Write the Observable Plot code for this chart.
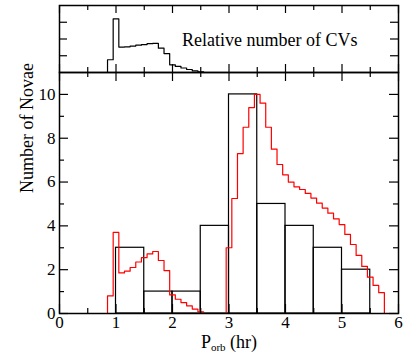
<!DOCTYPE html>
<html><head><meta charset="utf-8">
<script src="https://cdn.jsdelivr.net/npm/d3@7"></script>
<script src="https://cdn.jsdelivr.net/npm/@observablehq/plot@0.6"></script>
<style>
body{margin:0;background:#fff}
#chart{position:relative;width:412px;height:354px;overflow:hidden;background:#fff}
#chart svg{position:absolute;left:0}
</style>
</head><body><div id="chart"></div>
<script>
// ---- data ----
const binStart = 0.85;      // first edge of the 0.1 hr bins
const binWidth = 0.1;
const cvRelative = [0.76,3.2,1.52,1.53,1.58,1.63,1.67,1.72,1.74,1.45,1.13,0.46,0.36,0.27,0.18,0.1,0.04];
const novaModel = [0.8,3.7,1.85,1.93,2.1,2.35,2.55,2.72,2.83,2.42,1.96,0.85,0.65,0.5,0.35,0.2,0.07,
  0,0,0,0,3.0,5.25,7.3,8.5,9.4,10.0,9.6,8.5,7.5,6.8,6.33,6.0,5.78,5.66,5.48,5.27,5.04,4.81,4.58,4.32,4.06,
  3.61,3.15,2.65,2.15,1.66,1.28,0.95];
const novaBinStarts = [1.0,1.5,2.0,2.5,3.0,3.5,4.0,4.5,5.0];
const novaBinWidth = 0.5;
const novaCounts = [3,1,1,4,10,5,4,3,2];
const xMajor = [0,1,2,3,4,5,6];
const xMinor = [0.5,1.5,2.5,3.5,4.5,5.5];
const yMajor = [0,2,4,6,8,10];
const yMinor = [1,3,5,7,9];
const topTicks = [1,2,3];
const topLabel = "Relative number of CVs";
const yLabel = "Number of Novae";

function steps(values){
  const pts = [{x: binStart, y: 0}];
  values.forEach((v,i)=>pts.push({x: binStart + i*binWidth, y: v}));
  pts.push({x: binStart + values.length*binWidth, y: 0});
  return pts;
}
const novaBars = novaBinStarts.map((s,i)=>({x1: s, x2: s + novaBinWidth, y: novaCounts[i]}));

const W = 412, mL = 59, mR = 14;
const font = "Times, 'Times New Roman', 'Liberation Serif', 'DejaVu Serif', serif";
const sw = 1.2;

function xTicks(vals, len, plotH){
  return [
    Plot.tickX(vals, {x: d=>d, stroke: "black", strokeWidth: sw, insetTop: plotH - len}),
    Plot.tickX(vals, {x: d=>d, stroke: "black", strokeWidth: sw, insetBottom: plotH - len})
  ];
}
function yTicks(vals, len, plotW){
  return [
    Plot.tickY(vals, {y: d=>d, stroke: "black", strokeWidth: sw, insetRight: plotW - len}),
    Plot.tickY(vals, {y: d=>d, stroke: "black", strokeWidth: sw, insetLeft: plotW - len})
  ];
}

// ---- top panel ----
const topH = 74, topMT = 5, topMB = 2;
const topPlotH = topH - topMT - topMB, plotW = W - mL - mR;
const topPanel = Plot.plot({
  width: W, height: topH, marginLeft: mL, marginRight: mR, marginTop: topMT, marginBottom: topMB,
  x: {domain: [0,6], axis: null},
  y: {domain: [0,4], axis: null},
  style: {background: "transparent", overflow: "visible"},
  marks: [
    Plot.line(steps(cvRelative), {x: "x", y: "y", curve: "step-after", stroke: "black", strokeWidth: sw}),
    ...xTicks(xMajor, 8, topPlotH),
    ...xTicks(xMinor, 5, topPlotH),
    ...yTicks(topTicks, 8, plotW),
    Plot.text([topLabel], {x: ()=>2.17, y: ()=>1.95, text: d=>d, textAnchor: "start", fontSize: 18, fill: "black"}),
    Plot.frame({stroke: "black", strokeWidth: 1.5})
  ]
});
topPanel.style.top = "0px";

// ---- main panel ----
const mainTop = 70, mainH = 354 - mainTop, mMT = 2, mMB = mainH - (313 - mainTop);
const mainPlotH = mainH - mMT - mMB;
const mainPanel = Plot.plot({
  width: W, height: mainH, marginLeft: mL, marginRight: mR, marginTop: mMT, marginBottom: mMB,
  x: {domain: [0,6]},
  y: {domain: [0,11]},
  style: {background: "transparent", overflow: "visible"},
  marks: [
    Plot.rectY(novaBars, {x1: "x1", x2: "x2", y: "y", fill: "none", stroke: "black", strokeWidth: sw}),
    Plot.line(steps(novaModel), {x: "x", y: "y", curve: "step-after", stroke: "#ff0000", strokeWidth: sw}),
    ...xTicks(xMajor, 9, mainPlotH),
    ...xTicks(xMinor, 5, mainPlotH),
    ...yTicks(yMajor, 9, plotW),
    ...yTicks(yMinor, 5, plotW),
    Plot.axisX({ticks: xMajor, tickSize: 0, tickPadding: 2, tickFormat: d=>String(d), fontSize: 17, label: null}),
    Plot.axisY({ticks: yMajor, tickSize: 0, tickPadding: 4, tickFormat: d=>String(d), fontSize: 17, label: null}),
    Plot.text([yLabel], {frameAnchor: "left", dx: -32, rotate: -90, text: d=>d, fontSize: 18, fill: "black"}),
    Plot.text(["P"], {x: ()=>3, frameAnchor: "bottom", dy: 34, text: d=>d, fontSize: 18, fill: "black"}),
    Plot.frame({stroke: "black", strokeWidth: 1.5})
  ]
});
mainPanel.style.top = mainTop + "px";

d3.select(mainPanel).selectAll("text").filter(function(){ return this.textContent === "P"; })
  .each(function(){
    const t = d3.select(this);
    t.text(null);
    t.append("tspan").text("P");
    t.append("tspan").attr("font-size", 11).attr("dy", 3).text("orb");
    t.append("tspan").attr("font-size", 18).attr("dy", -3).text(" (hr)");
  });

for (const svg of [topPanel, mainPanel]) {
  svg.setAttribute("font-family", font);
  d3.select(svg).selectAll("g, text, tspan").attr("font-family", font).style("font-family", font);
}

const chart = document.getElementById("chart");
chart.appendChild(topPanel);
chart.appendChild(mainPanel);
</script>
</body></html>
